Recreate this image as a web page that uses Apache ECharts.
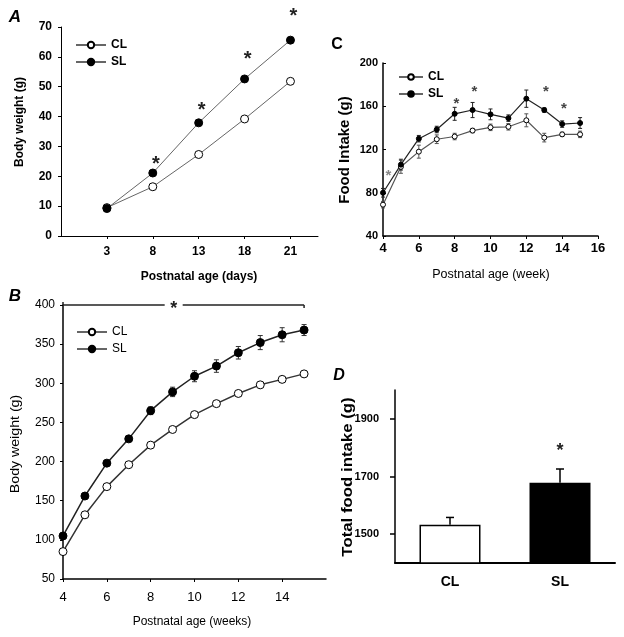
<!DOCTYPE html>
<html><head><meta charset="utf-8">
<script src="https://cdn.jsdelivr.net/npm/echarts@6/dist/echarts.min.js"></script>
<style>html,body{margin:0;padding:0;background:#fff}#c{width:624px;height:637px}</style>
</head><body><div id="c"></div>
<script>
const FONT = '"Liberation Sans", Arial, sans-serif';

// ---- Panel A: body weight, pre-weaning (days) ----
const daysA = [3, 8, 13, 18, 21];
const bwA_CL = [9.5, 16.5, 27.3, 39.2, 51.8];
const bwA_SL = [9.2, 21.1, 37.9, 52.6, 65.6];
const starA = [null, 25.5, 43.5, 60.5, 75];

// ---- Panel B: body weight, post-weaning (weeks) ----
const weeksB = [4, 5, 6, 7, 8, 9, 10, 11, 12, 13, 14, 15];
const bwB_CL = [85, 132, 168, 196, 221, 241, 260, 274, 287, 298, 305, 312];
const bwB_SL = [105, 156, 198, 229, 265, 289, 309, 322, 339, 352, 362, 368];
const errB_CL = [2, 2, 2, 2, 2, 2, 3, 3, 3, 3, 3, 3];
const errB_SL = [3, 3, 3, 3, 5, 6, 7, 8, 8, 9, 9, 7];
const sigB = [4, 15, 400, 9.05]; // from week, to week, level, star position

// ---- Panel C: food intake (weeks) ----
const weeksC = [4, 5, 6, 7, 8, 9, 10, 11, 12, 13, 14, 15];
const fiC_CL = [69, 104, 118, 129.5, 132, 137.5, 140.5, 141, 147, 131, 134, 134];
const fiC_SL = [80, 106, 130, 138.5, 153, 156.5, 152.5, 149, 167, 156.5, 143.5, 144.5];
const errC_CL = [3, 6, 6, 4, 3, 2, 3, 3, 6, 4, 2, 3];
const errC_SL = [4, 5, 3, 3, 6, 7, 5, 3, 8, 2, 3, 5];
const starC = [[4.3, 99], [8.1, 165], [9.1, 176], [13.1, 176], [14.1, 161]];

// ---- Panel D: total food intake ----
const groupsD = ['CL', 'SL'];
const totalD = [1533, 1678];
const errD = [25, 48];
const starD = [null, 1803];
const ticksD = [1500, 1700, 1900];

const openStyle = {color: '#fff', borderColor: '#000', borderWidth: 1};
const fillStyle = {color: '#000', borderColor: '#000', borderWidth: 1};

function lineSeries(name, xi, data, size, lineColor, lw, style) {
  return {type: 'line', name, xAxisIndex: xi, yAxisIndex: xi, data,
    symbol: 'circle', symbolSize: size, showSymbol: true, z: 3,
    lineStyle: {color: lineColor, width: lw}, itemStyle: style, silent: true};
}
function errSeries(xi, data, cap, color, lw, upOnly) {
  return {type: 'custom', xAxisIndex: xi, yAxisIndex: xi, z: 2, silent: true, data,
    renderItem: (p, api) => {
      const x = api.value(0), m = api.value(1), e = api.value(2);
      const t = api.coord([x, m + e]), b = api.coord([x, upOnly ? m : m - e]);
      const st = {stroke: color, lineWidth: lw};
      const ch = [
        {type: 'line', shape: {x1: t[0], y1: t[1], x2: b[0], y2: b[1]}, style: st},
        {type: 'line', shape: {x1: t[0] - cap, y1: t[1], x2: t[0] + cap, y2: t[1]}, style: st}
      ];
      if (!upOnly) ch.push({type: 'line', shape: {x1: b[0] - cap, y1: b[1], x2: b[0] + cap, y2: b[1]}, style: st});
      return {type: 'group', children: ch};
    }};
}
function starSeries(xi, data, size, color, dx) {
  return {type: 'custom', xAxisIndex: xi, yAxisIndex: xi, z: 5, silent: true, clip: false, data,
    renderItem: (p, api) => {
      const c = api.coord([api.value(0), api.value(1)]);
      return {type: 'text', x: c[0] + (dx || 0), y: c[1] + size * 0.22,
        style: {text: '*', font: `bold ${size}px ${FONT}`, textAlign: 'center', textVerticalAlign: 'middle', fill: color}};
    }};
}

const axisBase = (w) => ({axisLine: {show: true, lineStyle: {color: '#000', width: w}}, splitLine: {show: false}});

const option = {
  animation: false,
  backgroundColor: '#fff',
  textStyle: {fontFamily: FONT},
  grid: [
    {left: 61, top: 27, width: 257, height: 209},
    {left: 63, top: 305, width: 263, height: 274},
    {left: 383, top: 63, width: 215, height: 173},
    {left: 395, top: 390, width: 220, height: 173}
  ],
  xAxis: [
    Object.assign(axisBase(1), {gridIndex: 0, type: 'value', min: 0, max: 5.6, interval: 1,
      axisTick: {show: true, length: 3, customValues: [1, 2, 3, 4, 5], lineStyle: {color: '#000'}},
      axisLabel: {customValues: [1, 2, 3, 4, 5], formatter: v => (daysA[v - 1] !== undefined ? String(daysA[v - 1]) : ''),
        fontWeight: 'bold', fontSize: 12, color: '#000', margin: 10, fontFamily: FONT}}),
    Object.assign(axisBase(1.5), {gridIndex: 1, type: 'value', min: 4, max: 16, interval: 2,
      axisTick: {show: true, length: 3, lineStyle: {color: '#000'}},
      axisLabel: {fontSize: 13, color: '#000', margin: 12, fontFamily: FONT, showMaxLabel: false}}),
    Object.assign(axisBase(1.5), {gridIndex: 2, type: 'value', min: 4, max: 16, interval: 2,
      axisTick: {show: true, length: 3, lineStyle: {color: '#000'}},
      axisLabel: {fontWeight: 'bold', fontSize: 13, color: '#000', margin: 6, fontFamily: FONT}}),
    Object.assign(axisBase(2), {gridIndex: 3, type: 'category', data: groupsD,
      axisTick: {show: false},
      axisLabel: {fontWeight: 'bold', fontSize: 14, color: '#000', margin: 12, fontFamily: FONT}})
  ],
  yAxis: [
    Object.assign(axisBase(1), {gridIndex: 0, type: 'value', min: 0, max: 70, interval: 10,
      axisTick: {show: true, length: 3, lineStyle: {color: '#000'}},
      axisLabel: {fontWeight: 'bold', fontSize: 12, color: '#000', margin: 9, fontFamily: FONT}}),
    Object.assign(axisBase(1.5), {gridIndex: 1, type: 'value', min: 50, max: 400, interval: 50,
      axisTick: {show: true, length: 3, lineStyle: {color: '#000'}},
      axisLabel: {fontSize: 12, color: '#000', margin: 8, fontFamily: FONT}}),
    Object.assign(axisBase(1.5), {gridIndex: 2, type: 'value', min: 40, max: 200, interval: 40,
      axisTick: {show: true, inside: true, length: 3, lineStyle: {color: '#000'}},
      axisLabel: {fontWeight: 'bold', fontSize: 11, color: '#000', margin: 5, fontFamily: FONT}}),
    Object.assign(axisBase(1.5), {gridIndex: 3, type: 'value', min: 1400, max: 2000, interval: 100,
      axisTick: {show: true, length: 5, customValues: ticksD, lineStyle: {color: '#000', width: 1.5}},
      axisLabel: {customValues: ticksD, formatter: v => (ticksD.indexOf(v) >= 0 ? String(v) : ''),
        fontWeight: 'bold', fontSize: 11, color: '#000', margin: 16, fontFamily: FONT}})
  ],
  legend: [
    {data: ['CL', 'SL'], orient: 'vertical', left: 70, top: 34, itemWidth: 30, itemHeight: 8, itemGap: 5,
      textStyle: {fontWeight: 'bold', fontSize: 12, color: '#000', fontFamily: FONT}, selectedMode: false},
    {data: ['CL', 'SL'], orient: 'vertical', left: 71, top: 321, itemWidth: 30, itemHeight: 8, itemGap: 5,
      textStyle: {fontSize: 12, color: '#000', fontFamily: FONT}, selectedMode: false},
    {data: ['CL', 'SL'], orient: 'vertical', left: 393, top: 66, itemWidth: 24, itemHeight: 7, itemGap: 5,
      textStyle: {fontWeight: 'bold', fontSize: 12, color: '#000', fontFamily: FONT}, selectedMode: false}
  ],
  series: [
    // Panel A
    lineSeries('CL', 0, daysA.map((d, i) => [i + 1, bwA_CL[i]]), 8, '#666', 1, openStyle),
    lineSeries('SL', 0, daysA.map((d, i) => [i + 1, bwA_SL[i]]), 8, '#666', 1, fillStyle),
    starSeries(0, daysA.map((d, i) => [i + 1, starA[i]]).filter(p => p[1] != null), 20, '#222', 3),
    // Panel B
    errSeries(1, weeksB.map((w, i) => [w, bwB_CL[i], errB_CL[i]]), 2.5, '#333', 1, false),
    errSeries(1, weeksB.map((w, i) => [w, bwB_SL[i], errB_SL[i]]), 2.5, '#333', 1, false),
    lineSeries('CL', 1, weeksB.map((w, i) => [w, bwB_CL[i]]), 8, '#333', 1.5, openStyle),
    lineSeries('SL', 1, weeksB.map((w, i) => [w, bwB_SL[i]]), 8, '#222', 1.5, fillStyle),
    {type: 'custom', xAxisIndex: 1, yAxisIndex: 1, z: 5, silent: true, clip: false, data: [sigB],
      renderItem: (p, api) => {
        const a = api.coord([api.value(0), api.value(2)]);
        const b = api.coord([api.value(1), api.value(2)]);
        const s = api.coord([api.value(3), api.value(2)]);
        const st = {stroke: '#222', lineWidth: 1.5};
        return {type: 'group', children: [
          {type: 'line', shape: {x1: a[0], y1: a[1], x2: s[0] - 9, y2: a[1]}, style: st},
          {type: 'line', shape: {x1: s[0] + 9, y1: a[1], x2: b[0], y2: b[1]}, style: st},
          {type: 'line', shape: {x1: a[0], y1: a[1], x2: a[0], y2: a[1] - 3}, style: st},
          {type: 'line', shape: {x1: b[0], y1: b[1], x2: b[0], y2: b[1] + 3}, style: st},
          {type: 'text', x: s[0], y: s[1] + 4, style: {text: '*', font: `bold 18px ${FONT}`, textAlign: 'center', textVerticalAlign: 'middle', fill: '#222'}}
        ]};
      }},
    // Panel C
    errSeries(2, weeksC.map((w, i) => [w, fiC_CL[i], errC_CL[i]]), 2, '#555', 1, false),
    errSeries(2, weeksC.map((w, i) => [w, fiC_SL[i], errC_SL[i]]), 2, '#222', 1, false),
    lineSeries('CL', 2, weeksC.map((w, i) => [w, fiC_CL[i]]), 5, '#555', 1.2, openStyle),
    lineSeries('SL', 2, weeksC.map((w, i) => [w, fiC_SL[i]]), 5, '#222', 1.2, fillStyle),
    starSeries(2, starC.slice(0, 1), 15, '#888', 0),
    starSeries(2, starC.slice(1), 15, '#444', 0),
    // Panel D
    {type: 'bar', xAxisIndex: 3, yAxisIndex: 3, data: totalD.map((v, i) => ({value: v,
        itemStyle: i === 0 ? {color: '#fff', borderColor: '#000', borderWidth: 1.5} : {color: '#000', borderColor: '#000', borderWidth: 1.5}})),
      barWidth: 61, z: 2, silent: true},
    errSeries(3, groupsD.map((g, i) => [i, totalD[i], errD[i]]), 4, '#000', 1.5, true),
    starSeries(3, groupsD.map((g, i) => [i, starD[i]]).filter(p => p[1] != null), 18, '#222', 0)
  ],
  graphic: [
    {type: 'text', x: 15, y: 17, style: {text: 'A', font: `italic bold 17px ${FONT}`, textAlign: 'center', textVerticalAlign: 'middle', fill: '#000'}},
    {type: 'text', x: 15, y: 296, style: {text: 'B', font: `italic bold 17px ${FONT}`, textAlign: 'center', textVerticalAlign: 'middle', fill: '#000'}},
    {type: 'text', x: 337, y: 45, style: {text: 'C', font: `bold 16px ${FONT}`, textAlign: 'center', textVerticalAlign: 'middle', fill: '#000'}},
    {type: 'text', x: 339, y: 376, style: {text: 'D', font: `italic bold 16px ${FONT}`, textAlign: 'center', textVerticalAlign: 'middle', fill: '#000'}},
    {type: 'text', x: 20, y: 122, rotation: Math.PI / 2, style: {text: 'Body weight (g)', font: `bold 12px ${FONT}`, textAlign: 'center', textVerticalAlign: 'middle', fill: '#000'}},
    {type: 'text', x: 199, y: 277, style: {text: 'Postnatal age (days)', font: `bold 12px ${FONT}`, textAlign: 'center', textVerticalAlign: 'middle', fill: '#000'}},
    {type: 'text', x: 16, y: 444, rotation: Math.PI / 2, scaleX: 1.18, style: {text: 'Body weight (g)', font: `12px ${FONT}`, textAlign: 'center', textVerticalAlign: 'middle', fill: '#000'}},
    {type: 'text', x: 192, y: 622, style: {text: 'Postnatal age (weeks)', font: `12px ${FONT}`, textAlign: 'center', textVerticalAlign: 'middle', fill: '#000'}},
    {type: 'text', x: 345, y: 150, rotation: Math.PI / 2, style: {text: 'Food Intake (g)', font: `bold 15px ${FONT}`, textAlign: 'center', textVerticalAlign: 'middle', fill: '#000'}},
    {type: 'text', x: 491, y: 275, style: {text: 'Postnatal age (week)', font: `12.5px ${FONT}`, textAlign: 'center', textVerticalAlign: 'middle', fill: '#000'}},
    {type: 'text', x: 348, y: 477, rotation: Math.PI / 2, scaleX: 1.2, style: {text: 'Total food intake (g)', font: `bold 14px ${FONT}`, textAlign: 'center', textVerticalAlign: 'middle', fill: '#000'}}
  ]
};
const chart = echarts.init(document.getElementById('c'), null, {renderer: 'canvas'});
chart.setOption(option);
</script></body></html>
